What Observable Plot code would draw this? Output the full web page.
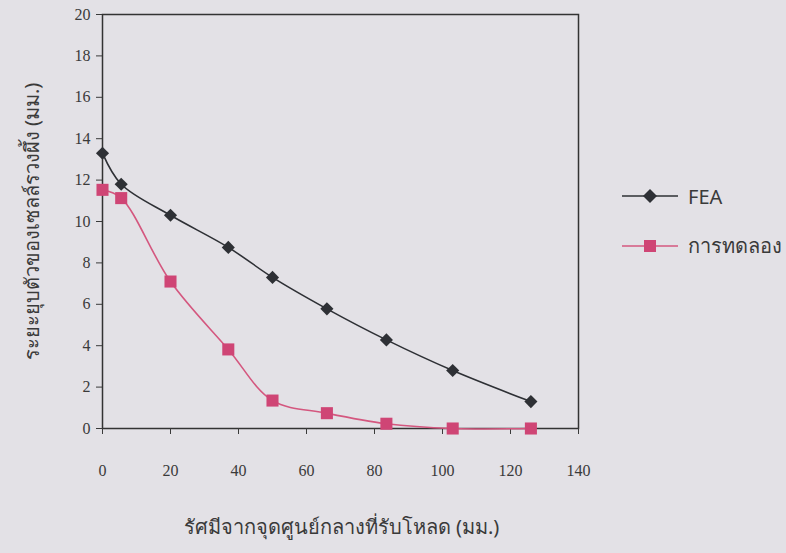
<!DOCTYPE html>
<html>
<head>
<meta charset="utf-8">
<script src="https://cdn.jsdelivr.net/npm/d3@7"></script>
<script src="https://cdn.jsdelivr.net/npm/@observablehq/plot@0.6"></script>
<style>
  html, body { margin: 0; padding: 0; background: #e3e1e6; }
  #wrap { position: relative; width: 786px; height: 553px; overflow: hidden; }
  #legend { position: absolute; left: 620px; top: 180px; font-family: "Noto Sans", "Open Sans", sans-serif; font-size: 20px; color: #3a3a3a; }
  .item { display: flex; align-items: center; height: 32px; margin-bottom: 18px; }
  .item svg { margin-right: 8px; }
</style>
</head>
<body>
<div id="wrap">
  <div id="chart"></div>
  <div id="legend">
    <div class="item"><svg width="60" height="20"><line x1="2" y1="10" x2="58" y2="10" stroke="#2e3035" stroke-width="1.6"/><path d="M30 3 L37 10 L30 17 L23 10 Z" fill="#2e3035"/></svg><span>FEA</span></div>
    <div class="item"><svg width="60" height="20"><line x1="2" y1="10" x2="58" y2="10" stroke="#d4577f" stroke-width="1.6"/><rect x="24" y="4" width="12" height="12" fill="#cf4575"/></svg><span>การทดลอง</span></div>
  </div>
</div>
<script>
const radius = [0, 5.5, 20, 37, 50, 66, 83.5, 103, 126];
const feaValues = [13.3, 11.8, 10.3, 8.75, 7.3, 5.78, 4.28, 2.8, 1.3];
const expValues = [11.53, 11.13, 7.1, 3.82, 1.35, 0.74, 0.23, 0.0, 0.0];
const xTicks = [0, 20, 40, 60, 80, 100, 120, 140];
const yTicks = [0, 2, 4, 6, 8, 10, 12, 14, 16, 18, 20];
const xLabel = "รัศมีจากจุดศูนย์กลางที่รับโหลด (มม.)";
const yLabel = "ระยะยุบตัวของเซลล์รวงผึ้ง (มม.)";

const fea = radius.map((r, i) => ({x: r, y: feaValues[i]}));
const exp = radius.map((r, i) => ({x: r, y: expValues[i]}));

const dark = "#2e3035";
const pink = "#d4577f";

const chart = Plot.plot({
  width: 786,
  height: 553,
  marginLeft: 102,
  marginRight: 208,
  marginTop: 14,
  marginBottom: 125,
  style: {background: "#e3e1e6", fontFamily: "'Liberation Serif', serif", fontSize: "16px", color: "#3a3a3a", overflow: "visible"},
  x: {domain: [0, 140]},
  y: {domain: [0, 20]},
  marks: [
    Plot.frame({stroke: "#333", strokeWidth: 1.5}),
    Plot.axisX({ticks: xTicks, tickSize: 6, tickPadding: 30, tickFormat: d => d, label: null, fontSize: 16}),
    Plot.axisY({ticks: yTicks, tickSize: 6, tickPadding: 6, tickFormat: d => d, label: null, fontSize: 16}),
    Plot.text([xLabel], {frameAnchor: "bottom", dy: 105, dx: 1, textAnchor: "middle", fontFamily: "'Noto Sans', sans-serif", fontSize: 20, fill: "#3a3a3a"}),
    Plot.text([yLabel], {frameAnchor: "left", dx: -70, dy: 0, rotate: -90, textAnchor: "middle", fontFamily: "'Noto Sans', sans-serif", fontSize: 20, fill: "#3a3a3a"}),
    Plot.line(exp, {x: "x", y: "y", stroke: pink, strokeWidth: 1.6, curve: "catmull-rom"}),
    Plot.line(fea, {x: "x", y: "y", stroke: dark, strokeWidth: 1.6, curve: "catmull-rom"}),
    Plot.dot(exp, {x: "x", y: "y", symbol: "square", r: 6.8, fill: "#cf4575", stroke: "none"}),
    Plot.dot(fea, {x: "x", y: "y", symbol: "diamond2", r: 5.9, fill: dark, stroke: "none"})
  ]
});
document.getElementById("chart").appendChild(chart);
</script>
</body>
</html>
